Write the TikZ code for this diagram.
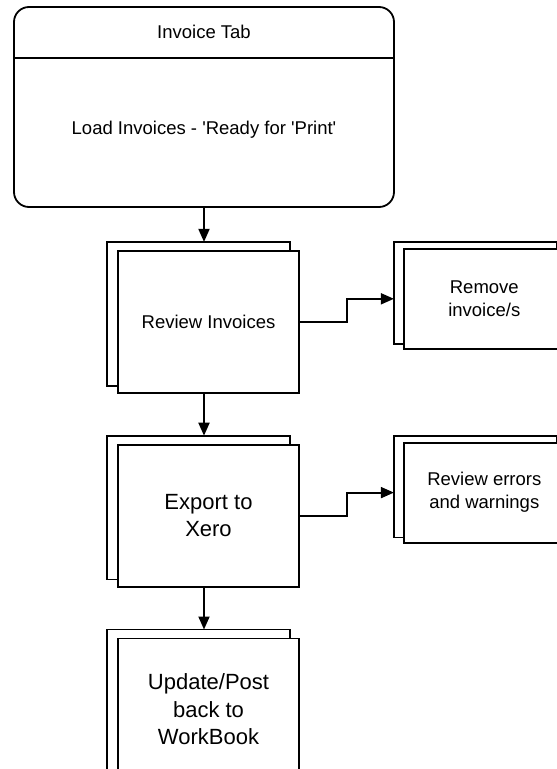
\documentclass[tikz,border=0pt]{standalone}
\usepackage{fontspec}
\setmainfont{Liberation Sans}
\usepackage{tikz}
\usetikzlibrary{positioning, arrows.meta, backgrounds}
\tikzset{
    x=1pt, y=1pt, % one unit is one pixel of the reference
    >={Triangle[length=13pt, width=11pt]}, % filled arrow heads
    flow/.style={->}, % the connectors
    sheet/.style={draw, fill=white, line width=1.8pt}, % the sheet behind a stack
}

\begin{document}
\begin{tikzpicture}[
                                line width=1.8pt,
                                tabBox/.style={draw, rounded corners=15pt, minimum width=380pt, minimum height=200pt},
                                docStack/.style={draw, fill=white, align=center, minimum width=181pt, minimum height=142pt},
                                docSmall/.style={draw, fill=white, align=center, minimum width=161pt, minimum height=100pt},
                                textSmall/.style={font=\fontsize{18.5}{23}\selectfont},
                                textBig/.style={font=\fontsize{22}{27.5}\selectfont},
                            ]
                            \useasboundingbox (0,0) rectangle (557,-769);
                            \node[tabBox] (tab) at (204,-107) {};
                            \node[textSmall] (tabTitle) at ([yshift=-26pt]tab.north) {Invoice Tab};
                            \node[textSmall] (tabLoad) at ([yshift=-23pt]tab.center) {Load Invoices - \textquotesingle Ready for \textquotesingle Print\textquotesingle};
                            \draw ([yshift=-52pt]tab.north west) -- ([yshift=-52pt]tab.north east);

                            \node[docStack, textSmall, below=42pt of tab, xshift=4.5pt] (review) {Review Invoices};
                            \node[docStack, textBig, below=50pt of review] (export) {Export to\\Xero};
                            \node[docStack, textBig, below=50pt of export] (update) {Update/Post\\back to\\WorkBook};
                            \node[docSmall, textSmall, right=103pt of review, yshift=23pt] (remove) {Remove\\invoice/s};
                            \node[docSmall, textSmall, right=103pt of export, yshift=23pt] (errors) {Review errors\\and warnings};

                            % second sheet behind each stack
                            \begin{scope}[on background layer]
                                \foreach \doc/\dx/\dy in {review/-10/8, export/-10/8, update/-10/8, remove/-9/6, errors/-9/6}
                                    \draw[sheet] ([shift={(\dx,\dy)}]\doc.south west) rectangle ([shift={(\dx,\dy)}]\doc.north east);
                            \end{scope}

                            \draw[flow] (tab.south) -- ([yshift=8pt]tab.south |- review.north);
                            \draw[flow] (review.south -| tab.south) -- ([yshift=8pt]export.north -| tab.south);
                            \draw[flow] (export.south -| tab.south) -- ([yshift=8pt]update.north -| tab.south);

                            \draw[flow] (review.east) -- ++(47pt,0) |- ([xshift=-9pt]remove.west);
                            \draw[flow] (export.east) -- ++(47pt,0) |- ([xshift=-9pt]errors.west);
                        \end{tikzpicture}
\end{document}
